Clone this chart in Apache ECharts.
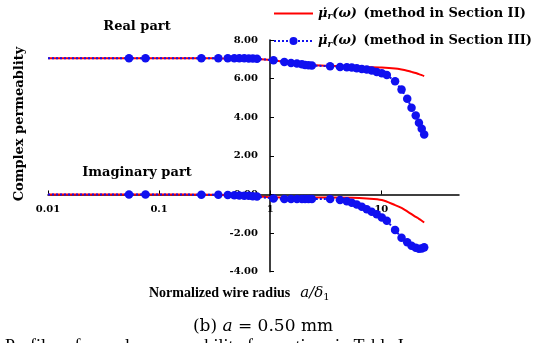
<!DOCTYPE html>
<html>
<head>
<meta charset="utf-8">
<script src="https://cdn.jsdelivr.net/npm/echarts@6/dist/echarts.min.js"></script>
<style>
html,body{margin:0;padding:0;background:#fff;}
#c{width:554px;height:343px;}
</style>
</head>
<body>
<div id="c"></div>
<script>
// ---- data ----
const xTickValues = [0.01, 0.1, 1, 10];
const yMin = -4, yMax = 8, yStep = 2;

const blueX = [0.01, 0.0536, 0.0754, 0.240, 0.341, 0.415, 0.475, 0.527, 0.584, 0.641, 0.697, 0.760,
  1.07, 1.34, 1.54, 1.74, 1.93, 2.06, 2.21, 2.37,
  3.46, 4.25, 4.89, 5.42, 6.01, 6.67, 7.39, 8.19, 9.09, 10.1, 11.2,
  13.3, 15.2, 17.1, 18.7, 20.4, 21.8, 23.1, 24.3];
const blueReal = [7.05, 7.05, 7.05, 7.05, 7.05, 7.05, 7.05, 7.05, 7.05, 7.04, 7.04, 7.03,
  6.95, 6.86, 6.81, 6.78, 6.74, 6.71, 6.69, 6.68,
  6.64, 6.60, 6.59, 6.57, 6.54, 6.50, 6.47, 6.42, 6.34, 6.28, 6.19,
  5.86, 5.43, 4.96, 4.49, 4.09, 3.71, 3.40, 3.11];
const blueImag = [0, 0, 0, -0.01, -0.02, -0.03, -0.04, -0.05, -0.06, -0.07, -0.09, -0.11,
  -0.21, -0.24, -0.24, -0.24, -0.24, -0.24, -0.24, -0.24,
  -0.24, -0.29, -0.35, -0.43, -0.52, -0.64, -0.76, -0.90, -1.03, -1.19, -1.36,
  -1.84, -2.24, -2.47, -2.66, -2.76, -2.81, -2.80, -2.74];

const redX = [0.01, 0.1, 0.3, 0.5, 0.76, 1.07, 1.54, 2.37, 3.46, 5.42, 7.39, 10.1, 13.3, 15.2, 17.1, 18.7, 20.4, 21.8, 23.1, 24.3];
const redReal = [7.05, 7.05, 7.05, 7.04, 7.02, 6.95, 6.82, 6.70, 6.66, 6.62, 6.60, 6.57, 6.52, 6.47, 6.41, 6.35, 6.29, 6.23, 6.18, 6.13];
const redImag = [0, 0, -0.02, -0.05, -0.10, -0.15, -0.16, -0.16, -0.16, -0.17, -0.21, -0.29, -0.55, -0.70, -0.88, -1.02, -1.16, -1.26, -1.36, -1.45];

const seriesNames = ['sec2', 'sec3'];
const legendTexts = {sec2: '(method in Section II)', sec3: '(method in Section III)'};
// ---------------

const RED = '#ff0000', BLUE = '#1010f0';
const SERIF = '"DejaVu Serif", serif';
const TIMES = '"Liberation Serif", serif';

function pairs(xs, ys) { return xs.map((x, i) => [x, ys[i]]); }
function bluePairs(xs, ys) {
  return xs.map((x, i) => i === 0 ? {value: [x, ys[i]], symbol: 'none'} : [x, ys[i]]);
}

const gridTop = 40, gridBottom = 71.3, chartH = 343;
const plotH = chartH - gridTop - gridBottom;
const zeroOffset = -plotH * (0 - yMin) / (yMax - yMin); // move x axis up to y = 0

const chart = echarts.init(document.getElementById('c'), null, {renderer: 'canvas'});

const redSeries = (d) => ({
  name: seriesNames[0], type: 'line', data: d, smooth: 0.3,
  symbol: 'none', showSymbol: false,
  lineStyle: {color: RED, width: 2}, itemStyle: {color: RED}, z: 2
});
const blueSeries = (d) => ({
  name: seriesNames[1], type: 'line', data: d,
  symbol: 'circle', symbolSize: 8.5,
  lineStyle: {color: BLUE, width: 2, type: 'dotted'}, itemStyle: {color: BLUE}, z: 3
});

chart.setOption({
  animation: false,
  grid: {left: 48, right: 95, top: gridTop, bottom: gridBottom},
  legend: {
    orient: 'vertical', left: 273, top: 7, padding: 0,
    data: [
      {name: seriesNames[0], icon: 'path://M0,0 L39,0 L39,2 L0,2 Z', itemStyle: {color: RED}},
      {name: seriesNames[1]}
    ],
    itemWidth: 39, itemHeight: 10, itemGap: 13,
    formatter: (n) => '{m|\u03bc\u0307}{s|r}{m|(\u03c9)}  {t|' + legendTexts[n] + '}',
    textStyle: {
      color: '#000',
      rich: {
        m: {fontFamily: SERIF, fontStyle: 'italic', fontWeight: 'bold', fontSize: 13, color: '#000'},
        s: {fontFamily: SERIF, fontStyle: 'italic', fontWeight: 'bold', fontSize: 9, color: '#000', padding: [7, 0, 0, 0]},
        t: {fontFamily: SERIF, fontWeight: 'bold', fontSize: 13, color: '#000'}
      }
    }
  },
  xAxis: {
    type: 'log', logBase: 10, min: 0.01, max: 50,
    position: 'bottom', offset: zeroOffset,
    axisLine: {onZero: false, lineStyle: {color: '#000', width: 1.5}},
    axisTick: {show: true, inside: true, length: 4, lineStyle: {color: '#000'}},
    minorTick: {show: false},
    splitLine: {show: false},
    axisLabel: {
      margin: 10, showMaxLabel: false,
      color: '#000', fontFamily: SERIF, fontWeight: 'bold', fontSize: 10,
      formatter: (v) => {
        for (const t of xTickValues) { if (Math.abs(v - t) / t < 1e-6) return String(t); }
        return '';
      }
    }
  },
  yAxis: {
    type: 'value', min: yMin, max: yMax, interval: yStep,
    offset: -222,
    axisLine: {show: true, lineStyle: {color: '#000', width: 1.5}},
    axisTick: {show: true, inside: true, length: 4, lineStyle: {color: '#000'}},
    splitLine: {show: false},
    axisLabel: {
      margin: 12, color: '#000', fontFamily: SERIF, fontWeight: 'bold', fontSize: 10,
      formatter: (v) => v.toFixed(2)
    }
  },
  series: [
    redSeries(pairs(redX, redReal)),
    redSeries(pairs(redX, redImag)),
    blueSeries(bluePairs(blueX, blueReal)),
    blueSeries(bluePairs(blueX, blueImag))
  ],
  graphic: [
    {type: 'text', x: 137, y: 27, style: {text: 'Real part', textAlign: 'center', textVerticalAlign: 'middle', font: 'bold 13px ' + SERIF, fill: '#000'}},
    {type: 'text', x: 137, y: 173, style: {text: 'Imaginary part', textAlign: 'center', textVerticalAlign: 'middle', font: 'bold 13px ' + SERIF, fill: '#000'}},
    {type: 'text', x: 20, y: 124, rotation: Math.PI / 2,
      style: {text: 'Complex permeablity', textAlign: 'center', textVerticalAlign: 'middle', font: 'bold 13px ' + SERIF, fill: '#000'}},
    {type: 'text', x: 149, y: 293,
      style: {
        text: '{n|Normalized wire radius}   {a|a/\u03b4}{s|1}',
        textVerticalAlign: 'middle',
        rich: {
          n: {fontFamily: TIMES, fontWeight: 'bold', fontSize: 14, fill: '#000'},
          a: {fontFamily: SERIF, fontStyle: 'italic', fontSize: 15, fill: '#000'},
          s: {fontFamily: SERIF, fontSize: 10, fill: '#000', padding: [8, 0, 0, 0]}
        }
      }},
    {type: 'text', x: 263, y: 327,
      style: {
        text: '{r|(b) }{i|a}{r| = 0.50 mm}',
        textAlign: 'center', textVerticalAlign: 'middle',
        rich: {
          r: {fontFamily: SERIF, fontSize: 17, fill: '#000'},
          i: {fontFamily: SERIF, fontStyle: 'italic', fontSize: 17, fill: '#000'}
        }
      }},
    {type: 'text', x: 5, y: 338,
      style: {text: 'Profiles of complex permeability for sections in Table I.', textVerticalAlign: 'top', font: '18px ' + TIMES, fill: '#000'}}
  ]
});
</script>
</body>
</html>
